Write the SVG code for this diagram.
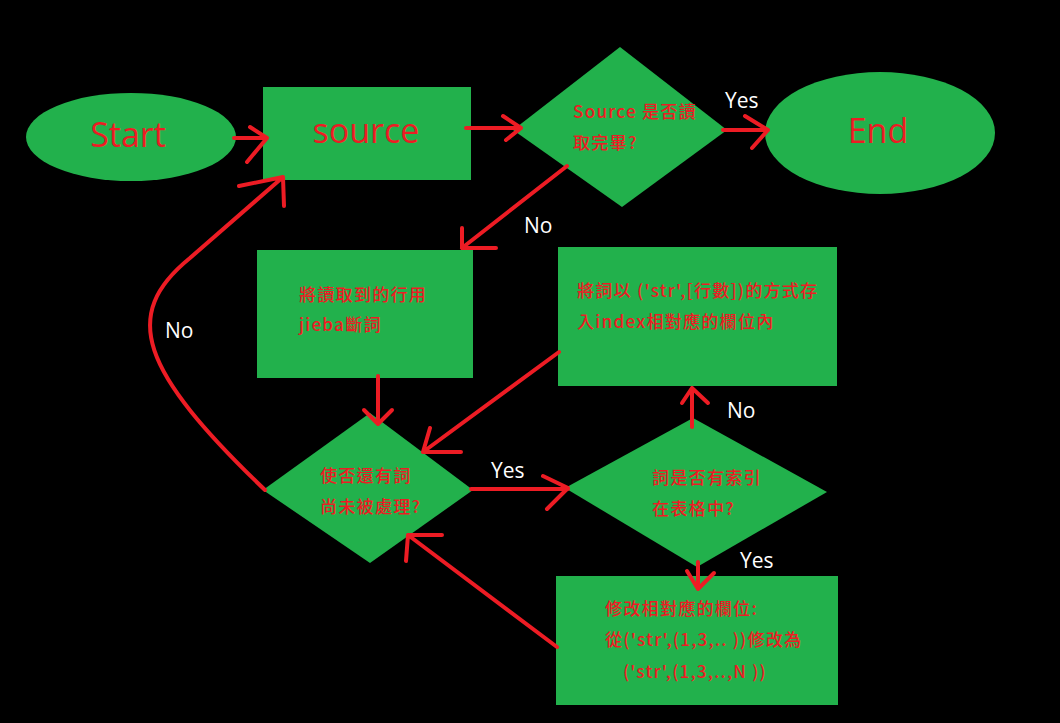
<svg xmlns="http://www.w3.org/2000/svg" width="1060" height="723" viewBox="0 0 1060 723">
<style>
.n{fill:#22B14C}
.big{font-family:"Open Sans","Noto Sans",sans-serif;font-size:34px;fill:#ED1C24;text-anchor:middle}
.t{font-family:"Noto Sans CJK TC","Noto Sans",sans-serif;font-size:17px;font-weight:500;fill:#ED1C24;letter-spacing:1.3px}
.lb{font-family:"Open Sans","Noto Sans",sans-serif;font-size:21px;fill:#FFFFFF}
.c{fill:none;stroke:#ED1C24;stroke-width:4;stroke-linecap:round;stroke-linejoin:round}
</style>
<rect width="1060" height="723" fill="#000000"/>
<g id="start"><ellipse class="n" cx="131" cy="137" rx="105" ry="44"/><text class="big" x="128" y="147">Start</text></g>
<g id="source"><rect class="n" x="263" y="87" width="208" height="93"/><text class="big" x="366" y="143">source</text></g>
<g id="check-source"><polygon class="n" points="620,47 727,130 622,207 513,130"/><text class="t" x="573" y="118">Source 是否讀</text><text class="t" x="573" y="149">取完畢?</text></g>
<g id="end"><ellipse class="n" cx="880" cy="133" rx="115" ry="61"/><text class="big" x="878" y="143">End</text></g>
<g id="tokenize"><rect class="n" x="257" y="250" width="216" height="128"/><text class="t" x="299" y="301">將讀取到的行用</text><text class="t" x="299" y="331">jieba斷詞</text></g>
<g id="store"><rect class="n" x="558" y="247" width="279" height="139"/><text class="t" x="577" y="297">將詞以 ('str',[行數])的方式存</text><text class="t" x="577" y="328">入index相對應的欄位內</text></g>
<g id="more-words"><polygon class="n" points="370,413 473,490 370,563 263,490"/><text class="t" x="320" y="482">使否還有詞</text><text class="t" x="320" y="513">尚未被處理?</text></g>
<g id="indexed"><polygon class="n" points="693,418 827,492 697,567 565,488"/><text class="t" x="652" y="484">詞是否有索引</text><text class="t" x="652" y="515">在表格中?</text></g>
<g id="update"><rect class="n" x="556" y="576" width="282" height="129"/><text class="t" x="605" y="615">修改相對應的欄位:</text><text class="t" x="605" y="646">從('str',(1,3,.. ))修改為</text><text class="t" x="623" y="678">('str',(1,3,..,N ))</text></g>
<g id="connectors">
<path class="c" d="M234,138 L267,138 M250,127 L267,138 L247,162"/>
<path class="c" d="M466,128 L521,128 M503,116 L521,128 L506,140"/>
<path class="c" d="M723,130 L768,130 M745,116 L768,130 L752,148"/>
<path class="c" d="M567,166 L462,248 M462,228 L462,248 L496,248"/>
<path class="c" d="M378,376 L378,422 M364,410 L378,424 L392,410"/>
<path class="c" d="M559,352 L423,452 M430,428 L423,452 L461,452"/>
<path class="c" d="M471,489 L568,489 M543,476 L568,488 L547,509"/>
<path class="c" d="M557,647 L408,535 M442,535 L408,535 L406,561"/>
<path class="c" d="M692,427 L692,388 M682,403 L692,388 L708,403"/>
<path class="c" d="M698,562 L698,589 M687,571 L698,589 L714,573"/>
<path class="c" d="M265,490 C140,370 120,315 190,258 L283,177 M239,186 L283,177 L284,206"/>
</g>
<g id="labels">
<text class="lb" x="725" y="108">Yes</text>
<text class="lb" x="524" y="233">No</text>
<text class="lb" x="165" y="338">No</text>
<text class="lb" x="491" y="478">Yes</text>
<text class="lb" x="727" y="418">No</text>
<text class="lb" x="740" y="568">Yes</text>
</g>
</svg>
